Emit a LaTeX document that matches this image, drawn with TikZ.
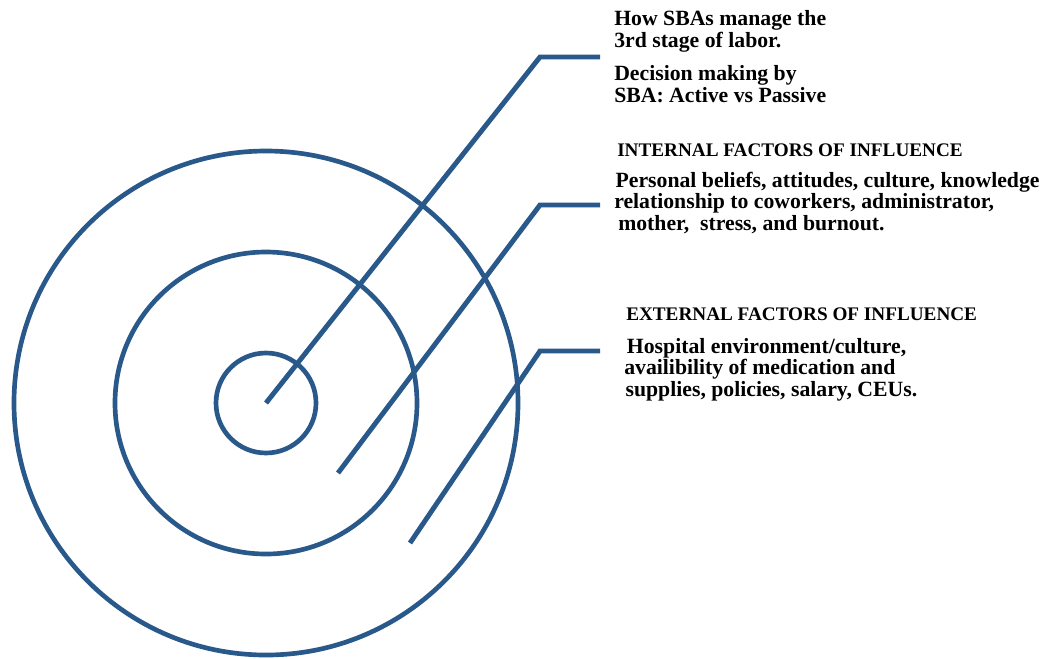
\documentclass[tikz,border=0pt]{standalone}
\usepackage{fontspec}
\setmainfont{Liberation Serif}
\usetikzlibrary{calc}
\definecolor{ringblue}{RGB}{41,88,138}

\begin{document}
\begin{tikzpicture}[x=0.75pt,y=-0.75pt,
  ring/.style={draw=ringblue,line width=3.5pt},
  leader/.style={draw=ringblue,line width=3.7pt},
  txt/.style={anchor=base west,inner sep=0pt,align=left,font=\bfseries\fontsize{16.3}{15.9}\selectfont},
  head/.style={txt,font=\bfseries\fontsize{14.4}{15}\selectfont}]
\useasboundingbox (0,0) rectangle (1042,658);
\coordinate (O) at (266,403);
\draw[ring] (O) circle[radius=50]; \draw[ring] (O) circle[radius=151]; \draw[ring] (O) circle[radius=252];
% leaders
\coordinate (a0) at (266,403); \coordinate (a1) at (540,57); \coordinate (a2) at (600,57);
\coordinate (b0) at (338,473); \coordinate (b1) at (540,205); \coordinate (b2) at (600,205);
\coordinate (c0) at (410,543); \coordinate (c1) at (540,351); \coordinate (c2) at (600,351);
\draw[leader] (a0)--(a1)--(a2); \draw[leader] (b0)--(b1)--(b2); \draw[leader] (c0)--(c1)--(c2);
% labels (anchored at the last baseline)
\node[txt] (core) at (614,47) {How SBAs manage the\\3rd stage of labor.};
\node[txt] (decide) at (614,102) {Decision making by\\SBA: Active vs Passive};
\node[head] (inthead) at (617,156) {INTERNAL FACTORS OF INFLUENCE};
\node[txt] (intbody) at (614,230) {\hspace{1pt}Personal beliefs, attitudes, culture, knowledge\\relationship to coworkers, administrator,\\\hspace{3pt}mother,~ stress, and burnout.};
\node[head] (exthead) at (626,320) {EXTERNAL FACTORS OF INFLUENCE};
\node[txt] (extbody) at (624,396) {\hspace{2pt}Hospital environment/culture,\\availibility of medication and\\\hspace{1pt}supplies, policies, salary, CEUs.};
\end{tikzpicture}
\end{document}
